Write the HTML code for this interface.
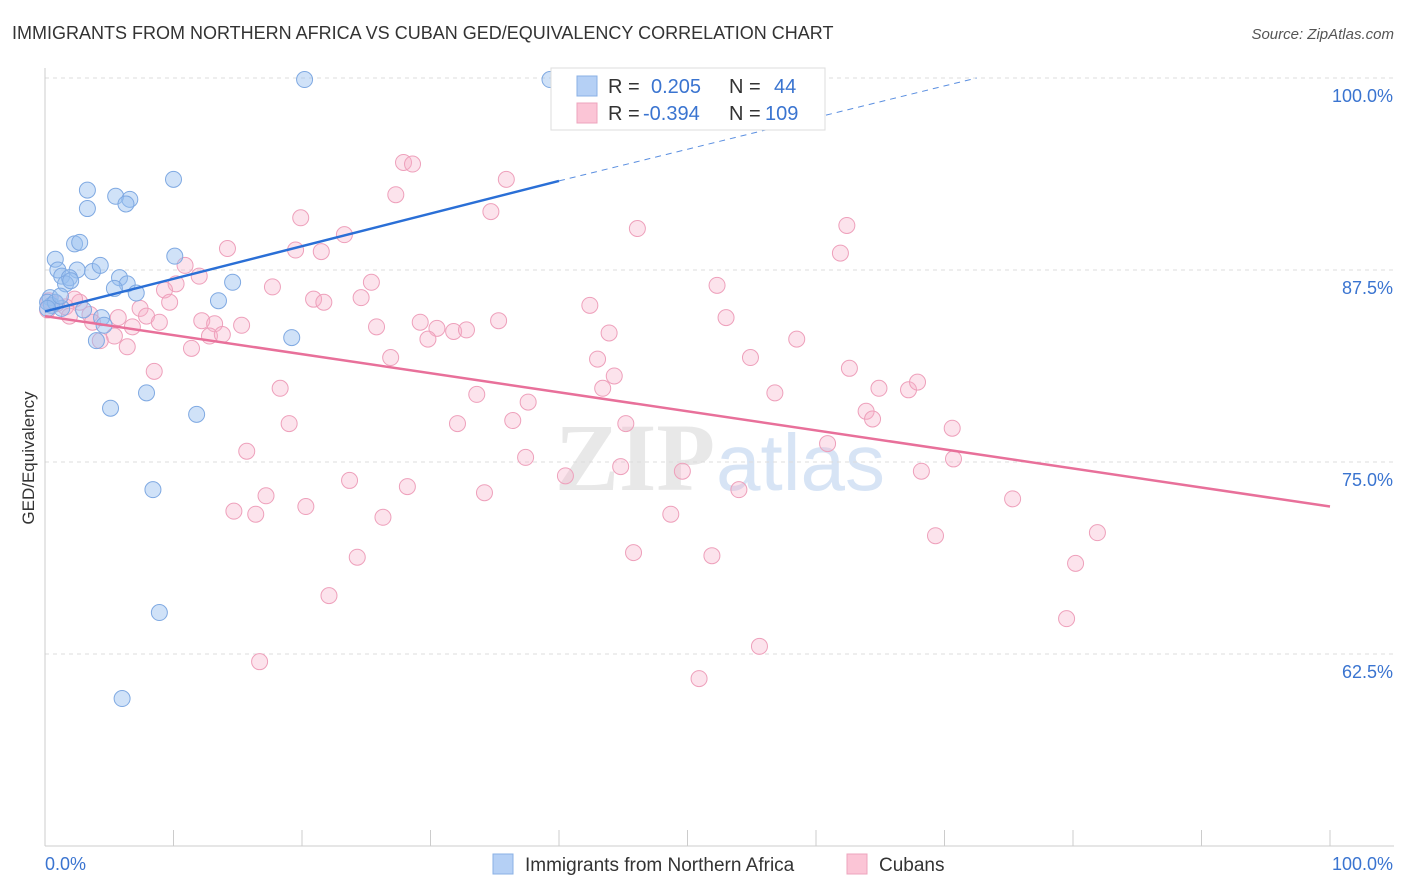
<!DOCTYPE html>
<html><head><meta charset="utf-8">
<style>
body{margin:0;background:#fff;width:1406px;height:892px;overflow:hidden;font-family:"Liberation Sans",sans-serif;}
svg{display:block}
</style></head>
<body>
<svg id="chart" width="1406" height="892">
<text x="12" y="39" font-size="18" fill="#333">IMMIGRANTS FROM NORTHERN AFRICA VS CUBAN GED/EQUIVALENCY CORRELATION CHART</text>
<text x="1394" y="39" font-size="15" fill="#555" font-style="italic" text-anchor="end">Source: ZipAtlas.com</text>
<text x="0" y="0" transform="translate(34,458) rotate(-90)" font-size="17" fill="#333" text-anchor="middle">GED/Equivalency</text>
<g>
<text x="555" y="490" font-size="96" fill="#d9d9d9" font-family="Liberation Serif,serif" font-weight="bold" opacity="0.6">ZIP</text>
<text x="716" y="490" font-size="80" fill="#b8cfee" opacity="0.55">atlas</text>
</g>
<g id="grid"></g><g id="axes"></g><g id="pts"></g><g id="lines"></g>
<g>
<rect x="551" y="68" width="274" height="62" fill="#fff" stroke="#ddd"/>
<rect x="577" y="76" width="20" height="20" fill="#b5d0f5" stroke="#8ab0e5"/>
<rect x="577" y="103" width="20" height="20" fill="#fbc5d6" stroke="#eea4bd"/>
<text x="608" y="93" font-size="20" fill="#333">R =</text><text x="651" y="93" font-size="20" fill="#3a74d0">0.205</text>
<text x="729" y="93" font-size="20" fill="#333">N =</text><text x="774" y="93" font-size="20" fill="#3a74d0">44</text>
<text x="608" y="120" font-size="20" fill="#333">R =</text><text x="643" y="120" font-size="20" fill="#3a74d0">-0.394</text>
<text x="729" y="120" font-size="20" fill="#333">N =</text><text x="765" y="120" font-size="20" fill="#3a74d0">109</text>
</g>
<g>
<rect x="493" y="854" width="20" height="20" fill="#b5d0f5" stroke="#8ab0e5"/>
<text x="525" y="871" font-size="19" fill="#333">Immigrants from Northern Africa</text>
<rect x="847" y="854" width="20" height="20" fill="#fbc5d6" stroke="#eea4bd"/>
<text x="879" y="871" font-size="19" fill="#333">Cubans</text>
</g>
</svg>
<script>
const yTicks=[100,87.5,75,62.5];
const yTickLabels=["100.0%","87.5%","75.0%","62.5%"];
const xLabels=["0.0%","100.0%"];
const blueX=[20.2,39.3,3.3,10.0,5.5,6.6,6.3,3.3,2.3,2.7,10.1,0.8,1.0,2.5,3.7,4.3,1.3,1.9,1.6,5.8,6.4,5.4,7.1,14.6,13.5,0.4,0.5,1.3,3.0,4.4,4.6,4.0,19.2,5.1,7.9,11.8,8.4,8.9,6.0,0.2,0.8,1.2,2.0,0.2];
const blueY=[99.9,99.9,92.7,93.4,92.3,92.1,91.8,91.5,89.2,89.3,88.4,88.2,87.5,87.5,87.4,87.8,87.1,87.0,86.6,87.0,86.6,86.3,86.0,86.7,85.5,85.7,85.2,85.0,84.9,84.4,83.9,82.9,83.1,78.5,79.5,78.1,73.2,65.2,59.6,85.4,85.4,85.8,86.8,85.0];
const pinkX=[27.9,28.6,35.9,27.3,34.7,19.9,62.4,46.1,14.2,23.3,19.5,21.5,61.9,10.9,12.0,10.2,9.3,25.4,17.7,52.3,20.9,21.7,24.6,9.7,42.4,7.4,2.7,2.3,1.6,1.9,0.9,0.3,0.2,3.5,3.7,5.7,7.9,8.9,6.8,5.4,4.3,6.4,11.4,12.2,13.2,12.8,13.8,15.3,25.8,29.2,30.5,31.8,32.8,35.3,29.8,43.9,53.0,58.5,26.9,43.0,54.9,8.5,44.3,62.6,18.3,43.4,33.6,56.8,64.9,67.2,67.9,37.6,63.9,64.4,19.0,32.1,36.4,45.2,70.6,60.9,15.7,37.4,70.7,44.8,49.6,68.2,40.5,23.7,28.2,34.2,54.0,17.2,75.3,14.7,16.4,20.3,26.3,48.7,81.9,69.3,45.8,51.9,24.3,80.2,22.1,79.5,55.6,16.7,50.9];
const pinkY=[94.5,94.4,93.4,92.4,91.3,90.9,90.4,90.2,88.9,89.8,88.8,88.7,88.6,87.8,87.1,86.6,86.2,86.7,86.4,86.5,85.6,85.4,85.7,85.4,85.2,85.0,85.4,85.6,85.1,84.5,85.3,85.5,84.9,84.6,84.1,84.4,84.5,84.1,83.8,83.2,82.9,82.5,82.4,84.2,84.0,83.2,83.3,83.9,83.8,84.1,83.7,83.5,83.6,84.2,83.0,83.4,84.4,83.0,81.8,81.7,81.8,80.9,80.6,81.1,79.8,79.8,79.4,79.5,79.8,79.7,80.2,78.9,78.3,77.8,77.5,77.5,77.7,77.5,77.2,76.2,75.7,75.3,75.2,74.7,74.4,74.4,74.1,73.8,73.4,73.0,73.2,72.8,72.6,71.8,71.6,72.1,71.4,71.6,70.4,70.2,69.1,68.9,68.8,68.4,66.3,64.8,63.0,62.0,60.9];
const blueTrend=[[0,84.8],[40,93.3]];
const blueTrendExt=[[40,93.3],[72.5,100]];
const pinkTrend=[[0,84.5],[100,72.1]];

const NS="http://www.w3.org/2000/svg";
const X=v=>45+v*12.85, Y=v=>78+(100-v)*15.36;
function mk(tag,attrs,parent){const e=document.createElementNS(NS,tag);for(const k in attrs)e.setAttribute(k,attrs[k]);parent.appendChild(e);return e;}
const grid=document.getElementById('grid'),axes=document.getElementById('axes'),pts=document.getElementById('pts'),lines=document.getElementById('lines');
yTicks.forEach((t,i)=>{
 const l=mk('line',{x1:45,x2:1394,y1:Y(t),y2:Y(t),stroke:'#ddd','stroke-dasharray':'4,4'},grid);
 
 
 const tx=mk('text',{x:1393,y:Y(t)+24,'font-size':18,fill:'#3a74d0','text-anchor':'end'},axes);
 tx.textContent=yTickLabels[i];
 
 
});
const ax=mk('line',{x1:45,x2:1394,y1:Y(50),y2:Y(50),stroke:'#ccc'},axes);


const ay=mk('line',{x1:45,x2:45,y1:68,y2:Y(50),stroke:'#ccc'},axes);


for(let i=0;i<=10;i++){const t=mk('line',{x1:X(i*10),x2:X(i*10),y1:Y(50),y2:Y(50)-16,stroke:'#ccc'},axes);
 
 }
[[0,'start',45],[100,'end',1393]].forEach(([v,a,x],i)=>{const t=mk('text',{x:x,y:870,'font-size':18,fill:'#3a74d0','text-anchor':a},axes);t.textContent=xLabels[i];
 
 });
pinkX.forEach((x,i)=>{const c=mk('circle',{cx:X(x),cy:Y(pinkY[i]),r:8,fill:'rgba(247,176,200,0.35)',stroke:'#eea0bb','stroke-width':1},pts);
 
 });
blueX.forEach((x,i)=>{const c=mk('circle',{cx:X(x),cy:Y(blueY[i]),r:8,fill:'rgba(150,190,240,0.45)',stroke:'#7fa9e2','stroke-width':1},pts);
 
 });
const b=mk('line',{x1:X(blueTrend[0][0]),y1:Y(blueTrend[0][1]),x2:X(blueTrend[1][0]),y2:Y(blueTrend[1][1]),stroke:'#2a6fd6','stroke-width':2.5},lines);


const be=mk('line',{x1:X(blueTrendExt[0][0]),y1:Y(blueTrendExt[0][1]),x2:X(blueTrendExt[1][0]),y2:Y(blueTrendExt[1][1]),stroke:'#5b8fe0','stroke-width':1,'stroke-dasharray':'6,5'},lines);


const p=mk('line',{x1:X(pinkTrend[0][0]),y1:Y(pinkTrend[0][1]),x2:X(pinkTrend[1][0]),y2:Y(pinkTrend[1][1]),stroke:'#e8709a','stroke-width':2.5},lines);


</script>
</body></html>
